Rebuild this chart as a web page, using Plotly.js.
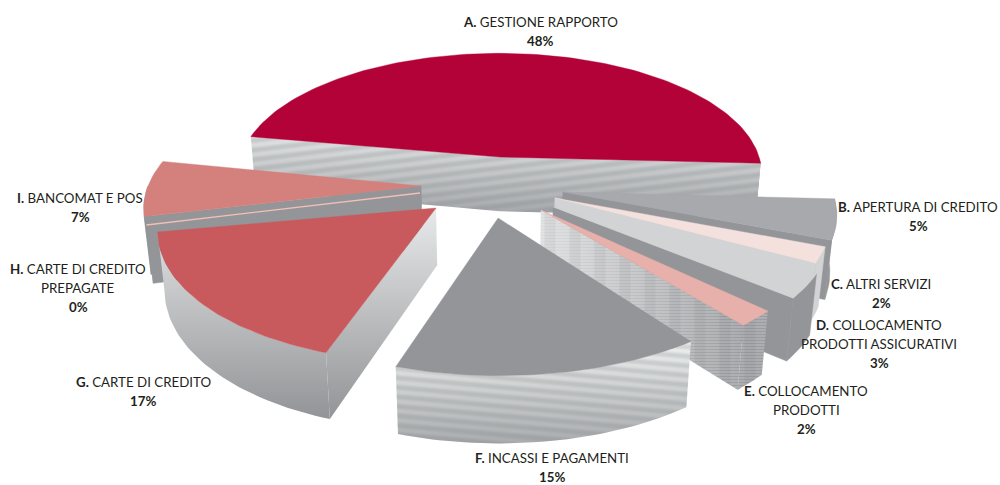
<!DOCTYPE html>
<html>
<head>
<meta charset="utf-8">
<script src="https://cdn.plot.ly/plotly-3.0.1.min.js"></script>
<style>html,body{margin:0;padding:0;background:#fff}#chart{width:1000px;height:485px}</style>
</head>
<body>
<div id="chart"></div>
<script>
// Reclami per categoria (percentuali)
const codes = ["A.", "B.", "C.", "D.", "E.", "F.", "G.", "H.", "I."];
const names = [
  ["GESTIONE RAPPORTO"],
  ["APERTURA DI CREDITO"],
  ["ALTRI SERVIZI"],
  ["COLLOCAMENTO", "PRODOTTI ASSICURATIVI"],
  ["COLLOCAMENTO", "PRODOTTI"],
  ["INCASSI E PAGAMENTI"],
  ["CARTE DI CREDITO"],
  ["CARTE DI CREDITO", "PREPAGATE"],
  ["BANCOMAT E POS"]
];
const shares = [48, 5, 2, 3, 2, 15, 17, 0, 7];

// Slice styling
const topColors = ["#b20238", "#a7a9ac", "#f4e1de", "#d1d3d4", "#e8b0aa", "#939598", "#c85a5e", "#f3bfb7", "#d4817e"];
const sideColors = ["", "#939598", "#d1d3d4", "#939598", "", "", "", "#939598", "#939598"];

// Exploded offset of each slice on the table plane, rotation nudge in degrees, horizontal stretch
const pullX = [0.031, 0.263, 0.232, 0.223, 0.178, 0.022, -0.204, -0.267, -0.265];
const pullY = [0.246, -0.040, -0.086, -0.156, -0.178, -0.238, -0.163, -0.047, 0.008];
const nudge = [0, 0, 0, 0, -4.4, -7.8, -8.4, -4.6, -5];
const stretch = [1, 1, 1, 1, 1, 1.04, 1, 1, 1.02];
const drawOrder = [0, 1, 2, 3, 4, 5, 8, 7, 6];

// Label anchors: centre x, first-line y
const labelX = [540, 918, 881, 879, 806, 552, 143, 78, 80];
const labelY = [22, 207, 284, 325, 391, 458, 382, 269, 198];
const lineStep = 19;
const labelFont = "Lato, 'Noto Sans', sans-serif";
const labelSize = 13.3;

// Perspective camera
const cam = {cx: 492, cy: 187, rx: 268, ry: 126, p: 0.14, depth: 56, lean: 0.000346};
const START = -3;

function project(X, Y) {
  const w = 1 + cam.p * Y;
  return [cam.cx + cam.rx * X / w, cam.cy - cam.ry * Y / w, w];
}
function drop(pt) {
  const dy = cam.depth / pt[2];
  return [pt[0] - (pt[0] - cam.cx) * cam.lean * dy, pt[1] + dy, pt[2]];
}
const rad = d => d * Math.PI / 180;

function sliceAngles() {
  const out = [];
  let cum = 0;
  shares.forEach((v, i) => {
    const sweep = v * 3.6;
    if (i === 0) {
      out.push([START + sweep, START]);
    } else {
      const t0 = START - cum + nudge[i];
      out.push([t0, t0 - sweep]);
      cum += sweep;
    }
  });
  return out;
}

function band(poly) {
  return poly.concat(poly.map(drop).reverse());
}

function buildSlice(i, t0, t1) {
  const ax = pullX[i], ay = pullY[i];
  const apex = project(ax, ay);
  const rim = t => project(ax + stretch[i] * Math.cos(rad(t)), ay + Math.sin(rad(t)));
  const steps = Math.max(1, Math.ceil((t0 - t1) / 1.5));
  const samples = [];
  for (let k = 0; k <= steps; k++) samples.push(t0 - (t0 - t1) * k / steps);
  const top = [apex].concat(samples.map(rim));
  const faces = [];
  const edge0 = Math.sin(rad(t0 + 90)) < 0, edge1 = Math.sin(rad(t1 - 90)) < 0;
  if (edge0 && edge1) {
    faces.push(band([rim(t0), apex, rim(t1)]));
  } else {
    if (edge0) faces.push(band([apex, rim(t0)]));
    if (edge1) faces.push(band([apex, rim(t1)]));
  }
  const front = samples.filter(t => Math.sin(rad(t)) < 0);
  if (front.length > 1) faces.push(band(front.map(rim)));
  return {top, faces};
}

function clipHalf(poly, fn) {
  const out = [];
  for (let k = 0; k < poly.length; k++) {
    const a = poly[k], b = poly[(k + 1) % poly.length];
    const fa = fn(a), fb = fn(b);
    if (fa >= 0) out.push(a);
    if ((fa >= 0) !== (fb >= 0)) {
      const u = fa / (fa - fb);
      out.push([a[0] + (b[0] - a[0]) * u, a[1] + (b[1] - a[1]) * u, 1]);
    }
  }
  return out;
}

// Parallel bands over one face; measure gives a point's position across the bands
function stripes(poly, measure, period, width) {
  const xs = [], ys = [];
  const vs = poly.map(measure);
  const lo = Math.floor(Math.min(...vs) / period) - 1;
  const hi = Math.ceil(Math.max(...vs) / period) + 1;
  for (let k = lo; k <= hi; k++) {
    const mid = k * period;
    let c = clipHalf(poly, p => measure(p) - (mid - width / 2));
    if (c.length) c = clipHalf(c, p => mid + width / 2 - measure(p));
    if (c.length > 2) {
      c.forEach(p => { xs.push(p[0]); ys.push(p[1]); });
      xs.push(null); ys.push(null);
    }
  }
  return {xs, ys};
}

function polyTrace(poly, style) {
  const xs = poly.map(p => p[0]).concat(poly[0][0]);
  const ys = poly.map(p => p[1]).concat(poly[0][1]);
  return Object.assign({
    type: "scatter", mode: "lines", x: xs, y: ys, fill: "toself",
    hoverinfo: "skip", showlegend: false
  }, style);
}

function stripeTrace(s, color) {
  return {
    type: "scatter", mode: "lines", x: s.xs, y: s.ys, fill: "toself", fillcolor: color,
    line: {width: 0, color: color}, hoverinfo: "skip", showlegend: false
  };
}

function ramp(type, start, stop, c0, c1) {
  return {type, start, stop, colorscale: [[0, c0], [1, c1]]};
}

const slanted = s => p => p[1] - s * p[0];
const upright = p => p[0];
const softBand = "rgba(120,122,126,0.07)";
const sideLook = {
  0: {grad: ramp("vertical", 134, 213, "#e2e3e4", "#a5a7aa"),
      layers: [[slanted(-0.12), 9.5, 6.5, softBand], [slanted(-0.12), 9.5, 4.5, softBand], [slanted(-0.12), 9.5, 2.5, softBand]]},
  4: {grad: ramp("horizontal", 540, 740, "#dcddde", "#9a9c9f"),
      layers: [[slanted(0), 3, 1.4, "rgba(255,255,255,0.25)"], [upright, 25, 11, "rgba(90,90,95,0.07)"]]},
  5: {grad: ramp("vertical", 345, 443, "#eceded", "#a9abae"),
      layers: [[slanted(0.09), 9.5, 6.5, softBand], [slanted(0.09), 9.5, 4.5, softBand], [slanted(0.09), 9.5, 2.5, softBand]]},
  6: {grad: ramp("vertical", 208, 416, "#e8e9ea", "#939598"), layers: []}
};

const angles = sliceAngles();
const traces = [];
drawOrder.forEach(i => {
  const s = buildSlice(i, angles[i][0], angles[i][1]);
  const look = sideLook[i];
  s.faces.forEach(f => {
    if (look) {
      traces.push(polyTrace(f, {fillgradient: look.grad, line: {width: 0, color: "#bbb"}}));
      look.layers.forEach(l => traces.push(stripeTrace(stripes(f, l[0], l[1], l[2]), l[3])));
    } else {
      traces.push(polyTrace(f, {fillcolor: sideColors[i], line: {width: 0.5, color: sideColors[i]}}));
    }
  });
  traces.push(polyTrace(s.top, {fillcolor: topColors[i], line: {width: shares[i] === 0 ? 1.4 : 0.4, color: topColors[i]}}));
});

const annotations = [];
codes.forEach((code, i) => {
  const lines = names[i].map((n, k) => k === 0 ? "<b>" + code + "</b> " + n : n);
  lines.push("<b>" + shares[i] + "%</b>");
  lines.forEach((text, k) => annotations.push({
    x: labelX[i], y: labelY[i] + k * lineStep, xref: "x", yref: "y", text, showarrow: false,
    xanchor: "center", yanchor: "middle",
    font: {family: labelFont, size: labelSize, color: "#231f20"}
  }));
});

Plotly.newPlot("chart", traces, {
  width: 1000, height: 485,
  margin: {l: 0, r: 0, t: 0, b: 0},
  paper_bgcolor: "#fff", plot_bgcolor: "#fff",
  xaxis: {range: [0, 1000], visible: false, fixedrange: true},
  yaxis: {range: [485, 0], visible: false, fixedrange: true},
  showlegend: false,
  annotations
}, {displayModeBar: false, staticPlot: true});
</script>
</body>
</html>
